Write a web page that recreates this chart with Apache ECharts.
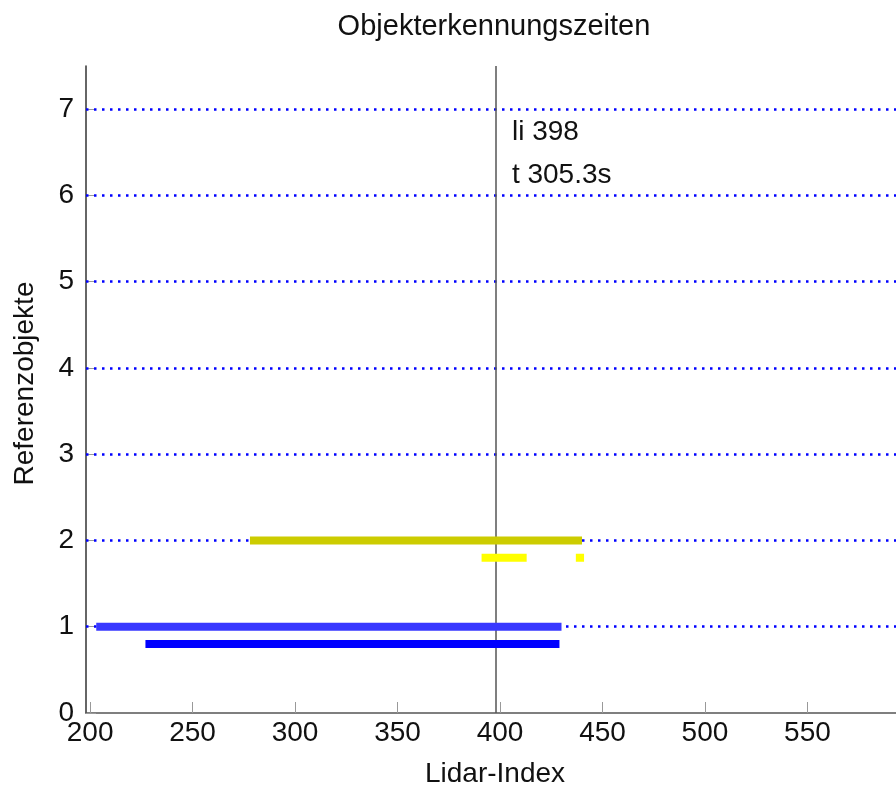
<!DOCTYPE html>
<html>
<head>
<meta charset="utf-8">
<script src="https://cdn.jsdelivr.net/npm/echarts@6/dist/echarts.min.js"></script>
<style>
  html, body { margin: 0; padding: 0; background: #fff; }
  #chart { width: 896px; height: 787px; }
</style>
</head>
<body>
<div id="chart"></div>
<script>
// Axis ticks
const xTicks = [200, 250, 300, 350, 400, 450, 500, 550];
const yTicks = [0, 1, 2, 3, 4, 5, 6, 7];
// Reference object levels drawn as dotted guide lines
const guideLevels = [1, 2, 3, 4, 5, 6, 7];

// Detection intervals: [start index, end index, object level]
const olivePeriods = [[278, 440, 2]];
const yellowPeriods = [[391, 413, 1.8], [437, 441, 1.8]];
const lightBluePeriods = [[203, 430, 1]];
const bluePeriods = [[227, 429, 0.8]];

// Current cursor
const cursorIndex = 398;
const cursorTime = 305.3;

const FONT = '"Liberation Sans", Arial, Helvetica, sans-serif';

function segments(periods) {
  const out = [];
  periods.forEach((p, i) => {
    if (i > 0) out.push([null, null]);
    out.push([p[0], p[2]], [p[1], p[2]]);
  });
  return out;
}

function periodSeries(name, periods, color) {
  return {
    name: name,
    type: 'line',
    data: segments(periods),
    showSymbol: false,
    symbol: 'none',
    connectNulls: false,
    lineStyle: { color: color, width: 8, cap: 'butt' },
    z: 5,
    animation: false
  };
}

const chart = echarts.init(document.getElementById('chart'));
chart.setOption({
  animation: false,
  title: {
    text: 'Objekterkennungszeiten',
    left: 489,
    textAlign: 'center',
    top: 7,
    textStyle: { fontFamily: FONT, fontSize: 29, fontWeight: 'normal', color: '#111' }
  },
  grid: { left: 86, right: 0, top: 66, bottom: 74, containLabel: false, outerBoundsMode: 'none' },
  xAxis: {
    type: 'value',
    min: 198,
    max: 593.2,
    name: 'Lidar-Index',
    nameLocation: 'middle',
    nameGap: 47,
    nameTextStyle: { fontFamily: FONT, fontSize: 28, color: '#111', padding: [0, 0, 0, 8] },
    axisLine: { show: true, onZero: false, lineStyle: { color: '#555', width: 1.5 } },
    axisTick: { show: true, inside: true, length: 11, customValues: xTicks, lineStyle: { color: '#999', width: 1 } },
    axisLabel: { customValues: xTicks, fontFamily: FONT, fontSize: 28, color: '#111', margin: 6 },
    splitLine: { show: false }
  },
  yAxis: {
    type: 'value',
    min: 0,
    max: 7.5,
    name: 'Referenzobjekte',
    nameLocation: 'middle',
    nameGap: 47,
    nameTextStyle: { fontFamily: FONT, fontSize: 28, color: '#111', padding: [0, 0, 0, 12] },
    axisLine: { show: true, lineStyle: { color: '#333', width: 1.5 } },
    axisTick: { show: true, inside: true, length: 10, customValues: yTicks, lineStyle: { color: '#999', width: 1 } },
    axisLabel: { customValues: yTicks, fontFamily: FONT, fontSize: 28, color: '#111', margin: 12 },
    splitLine: { show: false }
  },
  series: [
    {
      name: 'guides',
      type: 'line',
      data: [],
      z: 2,
      markLine: {
        silent: true,
        symbol: 'none',
        label: { show: false },
        lineStyle: { color: '#0000ff', type: [2.5, 5.5], width: 2.5 },
        data: guideLevels.map(v => ({ yAxis: v }))
      }
    },
    periodSeries('olive', olivePeriods, '#cccc00'),
    periodSeries('yellow', yellowPeriods, '#ffff00'),
    periodSeries('lightblue', lightBluePeriods, '#3838ff'),
    periodSeries('blue', bluePeriods, '#0000ff'),
    {
      name: 'cursor',
      type: 'line',
      data: [],
      markLine: {
        silent: true,
        symbol: 'none',
        label: { show: false },
        lineStyle: { color: '#555', type: 'solid', width: 1.5 },
        data: [{ xAxis: cursorIndex }]
      }
    }
  ]
});

// Cursor readout placed next to the cursor line
const p1 = chart.convertToPixel({ gridIndex: 0 }, [cursorIndex, 6.73]);
const p2 = chart.convertToPixel({ gridIndex: 0 }, [cursorIndex, 6.23]);
chart.setOption({
  graphic: [
    { type: 'text', x: p1[0] + 16, y: p1[1], style: { text: 'li ' + cursorIndex, font: '28px ' + FONT, fill: '#111', verticalAlign: 'middle' } },
    { type: 'text', x: p2[0] + 16, y: p2[1], style: { text: 't ' + cursorTime.toFixed(1) + 's', font: '28px ' + FONT, fill: '#111', verticalAlign: 'middle' } }
  ]
});
</script>
</body>
</html>
